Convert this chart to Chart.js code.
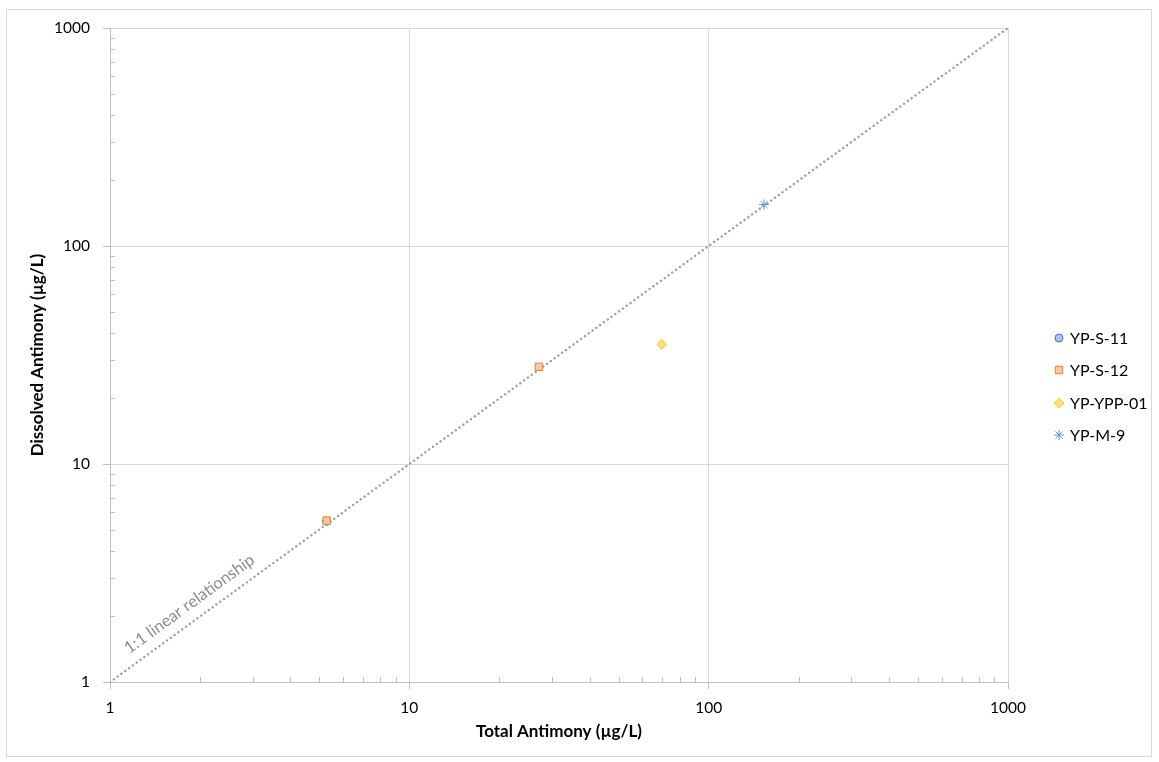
<!DOCTYPE html>
<html>
<head>
<meta charset="utf-8">
<script src="https://cdn.jsdelivr.net/npm/chart.js@4/dist/chart.umd.min.js"></script>
<style>
    html, body { margin: 0; padding: 0; background: #fff; }
    #wrap { width: 1159px; height: 762px; }
</style>
</head>
<body>
<div id="wrap"><canvas id="chart"></canvas></div>
<script>
// ##### Data #####
const seriesNames = ['YP-S-11', 'YP-S-12', 'YP-YPP-01', 'YP-M-9']
const totalSb = [[5.29], [5.3, 27.1], [69.7], [153]]
const dissolvedSb = [[5.46], [5.5, 27.9], [35.4], [155]]
const lineX = [1, 1000]
const lineY = [1, 1000]
const majorTicks = [1, 10, 100, 1000]

const pointStyles = ['circle', 'rect', 'rectRot', 'star']
const fills = ['#aac3e8', '#f8c6a4', '#ffe08a', '#5b9bd5']
const borders = ['#4472c4', '#ed7d31', '#ffc000', '#5b9bd5']
const radii = [4, 5.3, 4.8, 5]

const FONT = 'Lato, "Noto Sans", sans-serif'

// all ticks of a log axis (1..9 per decade), labels only on the decades
function logTicks(scale) {
    const ticks = []
    for (let d = 0; d < majorTicks.length; d++) {
        const base = majorTicks[d]
        const top = d === majorTicks.length - 1 ? 1 : 9
        for (let m = 1; m <= top; m++) {
            ticks.push({ value: base * m, major: m === 1 })
        }
    }
    scale.ticks = ticks
}

const isMajor = (v) => Math.abs(Math.log10(v) - Math.round(Math.log10(v))) < 1e-9

function axisOptions(title, isX) {
    return {
        type: 'logarithmic',
        min: 1,
        max: 1000,
        afterBuildTicks: logTicks,
        afterFit: (scale) => {
            if (isX) scale.height = 80
            else scale.width = 110
        },
        ticks: {
            autoSkip: false,
            maxRotation: 0,
            padding: isX ? 10 : 13,
            color: '#000',
            font: { family: FONT, size: 15.5 },
            callback: (value) => (isMajor(value) ? String(value) : ''),
        },
        grid: {
            color: (ctx) => (ctx.tick && isMajor(ctx.tick.value) ? '#d9d9d9' : 'rgba(0,0,0,0)'),
            tickColor: (ctx) => (ctx.tick && isMajor(ctx.tick.value) ? '#bfbfbf' : 'rgba(0,0,0,0)'),
            tickLength: 7,
            lineWidth: 1,
        },
        border: { color: '#bfbfbf', width: 1 },
        title: {
            display: true,
            text: title,
            color: '#000',
            font: { family: FONT, size: 17, weight: 'bold' },
            padding: isX ? { top: 0, bottom: 20 } : { top: 27, bottom: 0 },
        },
    }
}

// minor ticks pointing into the plot, the outer frame, the line label and the legend
const decorations = {
    id: 'decorations',
    beforeDraw(chart) {
        const ctx = chart.ctx
        ctx.save()
        ctx.fillStyle = '#fff'
        ctx.fillRect(0, 0, chart.width, chart.height)
        ctx.strokeStyle = '#d9d9d9'
        ctx.lineWidth = 1
        ctx.strokeRect(6.5, 9.5, 1145, 747)
        ctx.restore()
    },
    afterDraw(chart) {
        const ctx = chart.ctx
        const xs = chart.scales.x
        const ys = chart.scales.y
        const area = chart.chartArea
        ctx.save()
        ctx.strokeStyle = '#bfbfbf'
        ctx.lineWidth = 1
        ctx.beginPath()
        xs.ticks.forEach((t) => {
            if (t.major) return
            const px = Math.round(xs.getPixelForValue(t.value)) + 0.5
            ctx.moveTo(px, area.bottom)
            ctx.lineTo(px, area.bottom - 5)
        })
        ys.ticks.forEach((t) => {
            if (t.major) return
            const py = Math.round(ys.getPixelForValue(t.value)) + 0.5
            ctx.moveTo(area.left, py)
            ctx.lineTo(area.left + 5, py)
        })
        ctx.stroke()

        // 1:1 label along the diagonal
        const x0 = xs.getPixelForValue(lineX[0])
        const y0 = ys.getPixelForValue(lineY[0])
        const x1 = xs.getPixelForValue(lineX[1])
        const y1 = ys.getPixelForValue(lineY[1])
        const angle = Math.atan2(y1 - y0, x1 - x0)
        const startX = xs.getPixelForValue(1.22)
        const startY = y0 + (startX - x0) * Math.tan(angle)
        const off = 11
        ctx.translate(startX + Math.sin(angle) * off, startY - Math.cos(angle) * off)
        ctx.rotate(angle)
        ctx.fillStyle = '#8c8c8c'
        ctx.font = '16.5px ' + FONT
        ctx.textBaseline = 'alphabetic'
        ctx.fillText('1:1 linear relationship', 0, 0)
        ctx.restore()

        // legend
        ctx.save()
        ctx.font = '16px ' + FONT
        ctx.textBaseline = 'middle'
        ctx.fillStyle = '#000'
        const rows = [338, 370, 403, 435]
        seriesNames.forEach((name, i) => {
            ctx.fillStyle = fills[i]
            ctx.strokeStyle = borders[i]
            ctx.lineWidth = 1
            Chart.helpers.drawPoint(ctx, { pointStyle: pointStyles[i], radius: radii[i], borderWidth: 1, rotation: 0 }, 1059, rows[i])
            ctx.fillStyle = '#000'
            ctx.fillText(name, 1070, rows[i] + 1)
        })
        ctx.restore()
    },
}

const datasets = [
    {
        type: 'line',
        label: '1:1',
        data: lineX.map((x, i) => ({ x: x, y: lineY[i] })),
        borderColor: '#a0a0a0',
        borderWidth: 2.4,
        borderDash: [0.1, 4.6],
        borderCapStyle: 'round',
        pointRadius: 0,
        fill: false,
        order: 20,
    },
]
seriesNames.forEach((name, i) => {
    datasets.push({
        type: 'scatter',
        label: name,
        data: totalSb[i].map((x, j) => ({ x: x, y: dissolvedSb[i][j] })),
        pointStyle: pointStyles[i],
        pointRadius: radii[i],
        pointBackgroundColor: fills[i],
        pointBorderColor: borders[i],
        pointBorderWidth: 1,
        order: 10 - i,
    })
})

new Chart(document.getElementById('chart').getContext('2d'), {
    type: 'scatter',
    data: { datasets: datasets },
    options: {
        responsive: true,
        maintainAspectRatio: false,
        animation: false,
        layout: { padding: { top: 28, right: 151, left: 0, bottom: 0 } },
        scales: {
            x: axisOptions('Total Antimony (µg/L)', true),
            y: axisOptions('Dissolved Antimony (µg/L)', false),
        },
        plugins: {
            legend: { display: false },
            tooltip: { enabled: false },
        },
    },
    plugins: [decorations],
})
</script>
</body>
</html>
